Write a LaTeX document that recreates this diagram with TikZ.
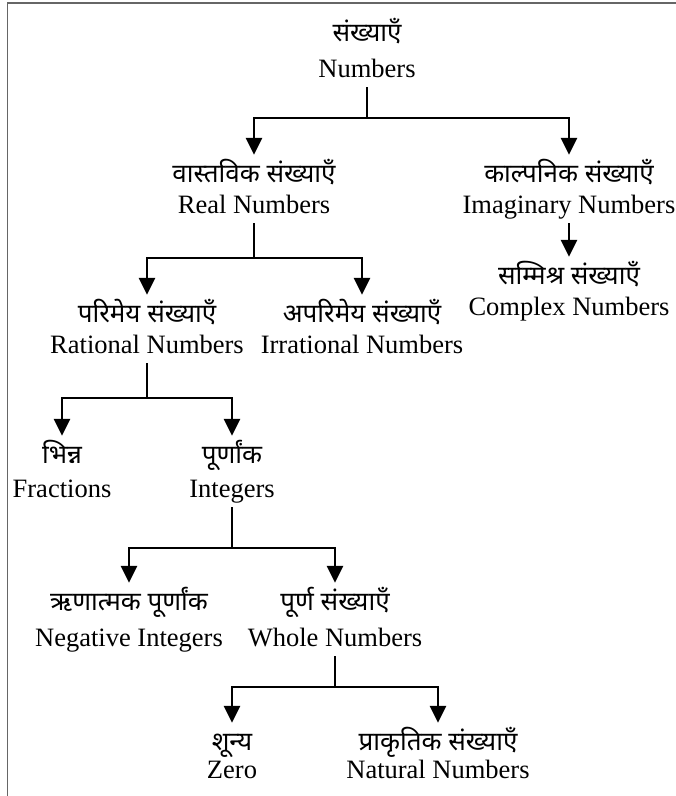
\documentclass[tikz,border=0pt]{standalone}
\usepackage{fontspec}
\setmainfont{Liberation Serif}
\newfontfamily\dev[Script=Devanagari]{Noto Sans}
\usetikzlibrary{arrows.meta}
\tikzset{
  hin/.style={anchor=base, inner sep=0pt, text height=27pt, text depth=0pt, font=\dev\fontsize{26}{30}\selectfont},
  eng/.style={anchor=base, inner sep=0pt, text depth=10pt, font=\fontsize{26.5}{30}\selectfont},
  conn/.style={line width=2.8pt, line join=miter, line cap=butt},
  arr/.style={conn, -{Triangle[width=16pt,length=17pt]}},
  frame/.style={line width=1.5pt, black!60}
}
\begin{document}
\begin{tikzpicture}[x=1pt,y=-1pt]
\useasboundingbox (0,0) rectangle (676,796);
\draw[frame] (676,3) -- (7.5,3) -- (7.5,796);
% bar levels
\coordinate (b1) at (0,118);
\coordinate (b2) at (0,258);
\coordinate (b3) at (0,398);
\coordinate (b4) at (0,548);
\coordinate (b5) at (0,687);
% nodes
\node[hin] (numH) at (367,41) {संख्याएँ};
\node[eng] (numE) at (367,77) {Numbers};
\node[hin] (realH) at (254,182) {वास्तविक संख्याएँ};
\node[eng] (realE) at (254,213) {Real Numbers};
\node[hin] (imagH) at (569,182) {काल्पनिक संख्याएँ};
\node[eng] (imagE) at (569,213) {Imaginary Numbers};
\node[hin] (compH) at (569,284) {सम्मिश्र संख्याएँ};
\node[eng] (compE) at (569,315) {Complex Numbers};
\node[hin] (ratH) at (147,322) {परिमेय संख्याएँ};
\node[eng] (ratE) at (147,353) {Rational Numbers};
\node[hin] (irrH) at (362,322) {अपरिमेय संख्याएँ};
\node[eng] (irrE) at (362,353) {Irrational Numbers};
\node[hin] (fracH) at (62,463) {भिन्न};
\node[eng] (fracE) at (62,497) {Fractions};
\node[hin] (intH) at (232,463) {पूर्णांक};
\node[eng] (intE) at (232,497) {Integers};
\node[hin] (negH) at (129,610) {ऋणात्मक पूर्णांक};
\node[eng] (negE) at (129,646) {Negative Integers};
\node[hin] (wholeH) at (335,610) {पूर्ण संख्याएँ};
\node[eng] (wholeE) at (335,646) {Whole Numbers};
\node[hin] (zeroH) at (232,750) {शून्य};
\node[eng] (zeroE) at (232,778) {Zero};
\node[hin] (natH) at (438,750) {प्राकृतिक संख्याएँ};
\node[eng] (natE) at (438,778) {Natural Numbers};
% connectors
\draw[arr] (numE.south) -- (numE.south |- b1) -| (realH.north);
\draw[arr] (numE.south |- b1) -| (imagH.north);
\draw[arr] (imagE.south) -- (compH.north);
\draw[arr] (realE.south) -- (realE.south |- b2) -| (ratH.north);
\draw[arr] (realE.south |- b2) -| (irrH.north);
\draw[arr] (ratE.south) -- (ratE.south |- b3) -| (fracH.north);
\draw[arr] (ratE.south |- b3) -| (intH.north);
\draw[arr] (intE.south) -- (intE.south |- b4) -| (negH.north);
\draw[arr] (intE.south |- b4) -| (wholeH.north);
\draw[arr] (wholeE.south) -- (wholeE.south |- b5) -| (zeroH.north);
\draw[arr] (wholeE.south |- b5) -| (natH.north);
\end{tikzpicture}
\end{document}
